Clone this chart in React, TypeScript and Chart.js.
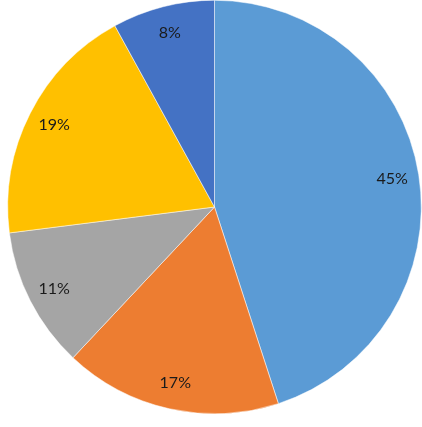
import React, { useEffect, useRef } from "react";
import { Chart, registerables } from "chart.js";

Chart.register(...registerables);

const labels = ["A", "B", "C", "D", "E"];
const values = [45, 17, 11, 19, 8];
const colors = ["#5B9BD5", "#ED7D31", "#A5A5A5", "#FFC000", "#4472C4"];

const labelPlugin = {
  id: "pctLabels",
  afterDatasetsDraw(chart: any) {
    const ctx = chart.ctx;
    const meta = chart.getDatasetMeta(0);
    const total = values.reduce((a, b) => a + b, 0);
    ctx.save();
    ctx.font = "16px Lato, 'Noto Sans', sans-serif";
    ctx.fillStyle = "#1a1a1a";
    ctx.textAlign = "center";
    ctx.textBaseline = "middle";
    meta.data.forEach((arc: any, i: number) => {
      const { x, y, startAngle, endAngle, outerRadius } = arc.getProps(
        ["x", "y", "startAngle", "endAngle", "outerRadius"],
        true
      );
      const mid = (startAngle + endAngle) / 2;
      const r = outerRadius * 0.87;
      const pct = Math.round((values[i] / total) * 100) + "%";
      ctx.fillText(pct, x + Math.cos(mid) * r, y + Math.sin(mid) * r);
    });
    ctx.restore();
  },
};

export default function App() {
  const ref = useRef<HTMLCanvasElement>(null);
  useEffect(() => {
    if (!ref.current) return;
    const chart = new Chart(ref.current, {
      type: "pie",
      data: {
        labels,
        datasets: [
          {
            data: values,
            backgroundColor: colors,
            borderColor: "#ffffff",
            borderWidth: 0.5,
          },
        ],
      },
      options: {
        animation: false,
        responsive: false,
        maintainAspectRatio: false,
        layout: { padding: { left: 7.5, right: 0.5, top: 0, bottom: 13 } },
        plugins: {
          legend: { display: false },
          tooltip: { enabled: false },
        },
      },
      plugins: [labelPlugin],
    });
    return () => chart.destroy();
  }, []);
  return (
    <div style={{ position: "absolute", left: 0, top: 0, width: 422, height: 427, background: "#fff" }}>
      <canvas ref={ref} width={422} height={427} style={{ width: 422, height: 427 }} />
    </div>
  );
}
